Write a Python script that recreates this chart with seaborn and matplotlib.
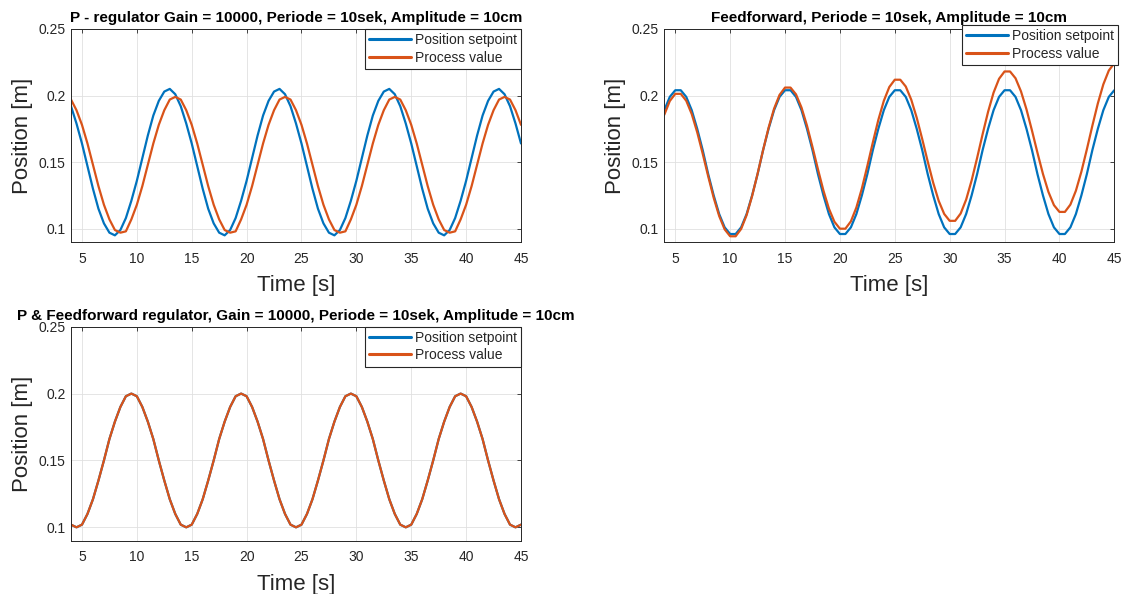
import numpy as np
import pandas as pd
import matplotlib
matplotlib.use("Agg")
import matplotlib.pyplot as plt
import seaborn as sns

# ---------------- data ----------------
time_s = np.linspace(4.0, 45.0, 83)  # sampling grid, 0.5 s

# P - regulator
p_setpoint = [
    0.192, 0.179, 0.164, 0.147, 0.130, 0.115, 0.104, 0.097, 0.095, 0.099,
    0.108, 0.121, 0.136, 0.153, 0.170, 0.185, 0.196, 0.203,
    0.205, 0.201, 0.192, 0.179, 0.164, 0.147, 0.130, 0.115, 0.104, 0.097,
    0.095, 0.099, 0.108, 0.121, 0.136, 0.153, 0.170, 0.185, 0.196, 0.203,
    0.205, 0.201, 0.192, 0.179, 0.164, 0.147, 0.130, 0.115, 0.104, 0.097,
    0.095, 0.099, 0.108, 0.121, 0.136, 0.153, 0.170, 0.185, 0.196, 0.203,
    0.205, 0.201, 0.192, 0.179, 0.164, 0.147, 0.130, 0.115, 0.104, 0.097,
    0.095, 0.099, 0.108, 0.121, 0.136, 0.153, 0.170, 0.185, 0.196, 0.203,
    0.205, 0.201, 0.192, 0.179, 0.164,
]
p_process = [
    0.197, 0.189, 0.178, 0.164, 0.148, 0.132, 0.118, 0.107, 0.099, 0.097,
    0.098, 0.107, 0.118, 0.132, 0.148, 0.164, 0.178, 0.189, 0.197,
    0.199, 0.197, 0.189, 0.178, 0.164, 0.148, 0.132, 0.118, 0.107, 0.099,
    0.097, 0.098, 0.107, 0.118, 0.132, 0.148, 0.164, 0.178, 0.189, 0.197,
    0.199, 0.197, 0.189, 0.178, 0.164, 0.148, 0.132, 0.118, 0.107, 0.099,
    0.097, 0.098, 0.107, 0.118, 0.132, 0.148, 0.164, 0.178, 0.189, 0.197,
    0.199, 0.197, 0.189, 0.178, 0.164, 0.148, 0.132, 0.118, 0.107, 0.099,
    0.097, 0.098, 0.107, 0.118, 0.132, 0.148, 0.164, 0.178, 0.189, 0.197,
    0.199, 0.197, 0.189, 0.178,
]

# Feedforward
ff_setpoint = [
    0.189, 0.199, 0.204,
    0.204, 0.199, 0.189, 0.175, 0.159, 0.141, 0.125, 0.111, 0.101, 0.096,
    0.096, 0.101, 0.111, 0.125, 0.141, 0.159, 0.175, 0.189, 0.199, 0.204,
    0.204, 0.199, 0.189, 0.175, 0.159, 0.141, 0.125, 0.111, 0.101, 0.096,
    0.096, 0.101, 0.111, 0.125, 0.141, 0.159, 0.175, 0.189, 0.199, 0.204,
    0.204, 0.199, 0.189, 0.175, 0.159, 0.141, 0.125, 0.111, 0.101, 0.096,
    0.096, 0.101, 0.111, 0.125, 0.141, 0.159, 0.175, 0.189, 0.199, 0.204,
    0.204, 0.199, 0.189, 0.175, 0.159, 0.141, 0.125, 0.111, 0.101, 0.096,
    0.096, 0.101, 0.111, 0.125, 0.141, 0.159, 0.175, 0.189, 0.199, 0.204,
]
ff_process = [
    0.1856, 0.1959, 0.2013,
    0.2013, 0.1961, 0.1861, 0.1724, 0.1563, 0.1393, 0.1232, 0.1095, 0.0995, 0.0943,
    0.0943, 0.0998, 0.1102, 0.1245, 0.1413, 0.1590, 0.1758, 0.1901, 0.2005, 0.2060,
    0.2060, 0.2009, 0.1910, 0.1774, 0.1614, 0.1446, 0.1286, 0.1150, 0.1052, 0.1000,
    0.1000, 0.1055, 0.1159, 0.1302, 0.1471, 0.1648, 0.1817, 0.1960, 0.2064, 0.2119,
    0.2119, 0.2068, 0.1969, 0.1833, 0.1673, 0.1505, 0.1345, 0.1209, 0.1111, 0.1059,
    0.1059, 0.1114, 0.1218, 0.1362, 0.1531, 0.1709, 0.1878, 0.2022, 0.2126, 0.2181,
    0.2181, 0.2130, 0.2031, 0.1896, 0.1737, 0.1570, 0.1411, 0.1276, 0.1177, 0.1126,
    0.1126, 0.1181, 0.1285, 0.1428, 0.1596, 0.1773, 0.1941, 0.2084, 0.2188, 0.2243,
]

# P & Feedforward
pff_setpoint = [
    0.102, 0.100, 0.102, 0.110, 0.121, 0.135, 0.150, 0.166, 0.179, 0.190, 0.198,
    0.200, 0.198, 0.190, 0.179, 0.166, 0.150, 0.135, 0.121, 0.110, 0.102,
    0.100, 0.102, 0.110, 0.121, 0.135, 0.150, 0.166, 0.179, 0.190, 0.198,
    0.200, 0.198, 0.190, 0.179, 0.166, 0.150, 0.135, 0.121, 0.110, 0.102,
    0.100, 0.102, 0.110, 0.121, 0.135, 0.150, 0.166, 0.179, 0.190, 0.198,
    0.200, 0.198, 0.190, 0.179, 0.166, 0.150, 0.135, 0.121, 0.110, 0.102,
    0.100, 0.102, 0.110, 0.121, 0.135, 0.150, 0.166, 0.179, 0.190, 0.198,
    0.200, 0.198, 0.190, 0.179, 0.166, 0.150, 0.135, 0.121, 0.110, 0.102,
    0.100, 0.102,
]
pff_process = [
    0.102, 0.100, 0.102, 0.110, 0.121, 0.135, 0.150, 0.166, 0.179, 0.190, 0.198,
    0.200, 0.198, 0.190, 0.179, 0.166, 0.150, 0.135, 0.121, 0.110, 0.102,
    0.100, 0.102, 0.110, 0.121, 0.135, 0.150, 0.166, 0.179, 0.190, 0.198,
    0.200, 0.198, 0.190, 0.179, 0.166, 0.150, 0.135, 0.121, 0.110, 0.102,
    0.100, 0.102, 0.110, 0.121, 0.135, 0.150, 0.166, 0.179, 0.190, 0.198,
    0.200, 0.198, 0.190, 0.179, 0.166, 0.150, 0.135, 0.121, 0.110, 0.102,
    0.100, 0.102, 0.110, 0.121, 0.135, 0.150, 0.166, 0.179, 0.190, 0.198,
    0.200, 0.198, 0.190, 0.179, 0.166, 0.150, 0.135, 0.121, 0.110, 0.102,
    0.100, 0.102,
]

titles = [
    "P - regulator Gain = 10000, Periode = 10sek, Amplitude = 10cm",
    "Feedforward, Periode = 10sek, Amplitude = 10cm",
    "P & Feedforward regulator, Gain = 10000, Periode = 10sek, Amplitude = 10cm",
]
series_labels = ["Position setpoint", "Process value"]
x_label = "Time [s]"
y_label = "Position [m]"
x_ticks = [5, 10, 15, 20, 25, 30, 35, 40, 45]
y_ticks = [0.1, 0.15, 0.2, 0.25]
y_tick_labels = ["0.1", "0.15", "0.2", "0.25"]

# ---------------- style ----------------
sns.set_style("white")
plt.rcParams["font.family"] = ["Liberation Sans", "DejaVu Sans"]

BLUE = "#0072BD"
ORANGE = "#D95319"
AXC = "#262626"

W, H = 1126, 594
fig = plt.figure(figsize=(W / 100, H / 100), dpi=100)


def px_axes(l, t, r, b):
    return fig.add_axes([l / W, 1 - b / H, (r - l) / W, (b - t) / H])


panels = [
    (px_axes(71, 29, 521, 242), p_setpoint, p_process, titles[0], (1.0, 1.0)),
    (px_axes(664.3, 29, 1114.3, 242), ff_setpoint, ff_process, titles[1], (1.009, 1.019)),
    (px_axes(71, 326.7, 521, 540.7), pff_setpoint, pff_process, titles[2], (1.0, 1.0)),
]

for ax, sp, pv, title, anchor in panels:
    df = pd.DataFrame({
        "Time": np.concatenate([time_s, time_s]),
        "Position": np.concatenate([sp, pv]),
        "Series": [series_labels[0]] * len(sp) + [series_labels[1]] * len(pv),
    })
    sns.lineplot(data=df, x="Time", y="Position", hue="Series",
                 palette=[BLUE, ORANGE], linewidth=1.6, errorbar=None,
                 ax=ax, legend=True)
    ax.set_xlim(4, 45)
    ax.set_ylim(0.09, 0.25)
    ax.set_xticks(x_ticks)
    ax.set_yticks(y_ticks)
    ax.set_yticklabels(y_tick_labels)
    ax.grid(True, color="#e0e0e0", linewidth=0.6)
    ax.set_axisbelow(True)
    for s in ax.spines.values():
        s.set_visible(True)
        s.set_color(AXC)
        s.set_linewidth(0.7)
    ax.tick_params(direction="in", length=3, width=0.6, top=True, right=True,
                   colors=AXC, labelsize=10)
    ax.tick_params(axis="x", pad=7)
    ax.tick_params(axis="y", pad=4)
    ax.set_xlabel(x_label, fontsize=16, color=AXC, labelpad=7)
    ax.set_ylabel(y_label, fontsize=16, color=AXC, labelpad=4)
    ax.set_title(title, fontsize=11, fontweight="bold", pad=5, color="black")
    leg = ax.legend(loc="upper right", bbox_to_anchor=anchor, borderaxespad=0,
                    frameon=True, fancybox=False, edgecolor=AXC, framealpha=1,
                    fontsize=10, handlelength=3, handletextpad=0.3,
                    borderpad=0.3, labelspacing=0.25, title=None)
    leg.get_frame().set_linewidth(0.8)
    for line in leg.get_lines():
        line.set_linewidth(2.2)

fig.savefig("out.png", dpi=100, facecolor="white")
